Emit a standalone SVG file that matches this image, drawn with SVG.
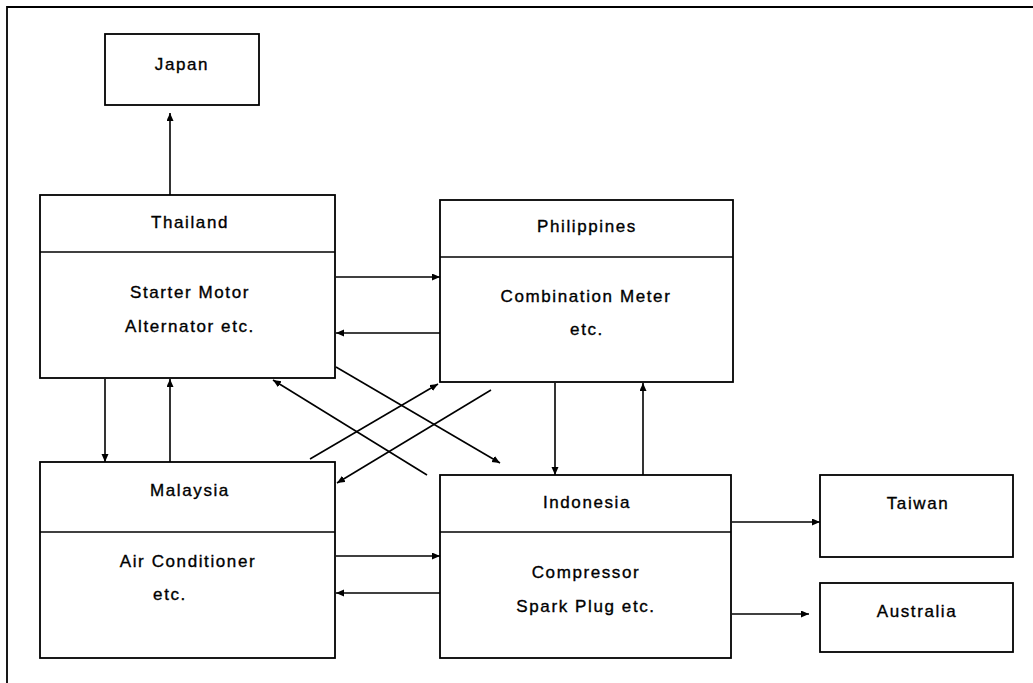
<svg xmlns="http://www.w3.org/2000/svg" width="1033" height="683" viewBox="0 0 1033 683">
  <style>
    .box { fill: #fff; stroke: #000; stroke-width: 1.8; }
    .div { stroke: #000; stroke-width: 1.5; }
    .lbl { font-family: "Liberation Sans", Arial, sans-serif; font-size: 17px; letter-spacing: 1.6px; fill: #000; stroke: #000; stroke-width: 0.35; text-anchor: middle; }
    .con { fill: none; stroke: #000; stroke-width: 1.6; marker-end: url(#arr); }
    .frame { fill: none; stroke: #000; stroke-width: 1.8; }
  </style>
  <defs>
    <marker id="arr" markerUnits="userSpaceOnUse" markerWidth="9" markerHeight="8" refX="8" refY="3.5" orient="auto">
      <path d="M0,0 L8,3.5 L0,7 z" fill="#000"/>
    </marker>
  </defs>

  <rect width="1033" height="683" fill="#fff"/>
  <!-- page frame: left and top edges -->
  <path class="frame" d="M7,683 V7 H1033"/>

  <g id="japan">
    <rect class="box" x="105" y="34" width="154" height="71"/>
    <text class="lbl" x="182" y="70">Japan</text>
  </g>

  <g id="thailand">
    <rect class="box" x="40" y="195" width="295" height="183"/>
    <line class="div" x1="40" y1="252" x2="335" y2="252"/>
    <text class="lbl" x="190" y="228">Thailand</text>
    <text class="lbl" x="190" y="298">Starter Motor</text>
    <text class="lbl" x="190" y="332">Alternator etc.</text>
  </g>

  <g id="philippines">
    <rect class="box" x="440" y="200" width="293" height="182"/>
    <line class="div" x1="440" y1="257" x2="733" y2="257"/>
    <text class="lbl" x="587" y="232">Philippines</text>
    <text class="lbl" x="586" y="302">Combination Meter</text>
    <text class="lbl" x="587" y="335">etc.</text>
  </g>

  <g id="malaysia">
    <rect class="box" x="40" y="462" width="295" height="196"/>
    <line class="div" x1="40" y1="532" x2="335" y2="532"/>
    <text class="lbl" x="190" y="496">Malaysia</text>
    <text class="lbl" x="188" y="567">Air Conditioner</text>
    <text class="lbl" x="170" y="600">etc.</text>
  </g>

  <g id="indonesia">
    <rect class="box" x="440" y="475" width="291" height="183"/>
    <line class="div" x1="440" y1="532" x2="731" y2="532"/>
    <text class="lbl" x="587" y="508">Indonesia</text>
    <text class="lbl" x="586" y="578">Compressor</text>
    <text class="lbl" x="586" y="612">Spark Plug etc.</text>
  </g>

  <g id="taiwan">
    <rect class="box" x="820" y="475" width="193" height="82"/>
    <text class="lbl" x="918" y="509">Taiwan</text>
  </g>

  <g id="australia">
    <rect class="box" x="820" y="583" width="193" height="69"/>
    <text class="lbl" x="917" y="617">Australia</text>
  </g>

  <g id="connectors">
    <!-- Thailand to Japan -->
    <line class="con" x1="170" y1="195" x2="170" y2="113"/>
    <!-- Thailand / Philippines -->
    <line class="con" x1="336" y1="277" x2="440" y2="277"/>
    <line class="con" x1="440" y1="333" x2="336" y2="333"/>
    <!-- Thailand / Malaysia -->
    <line class="con" x1="105" y1="379" x2="105" y2="462"/>
    <line class="con" x1="170" y1="462" x2="170" y2="379"/>
    <!-- Philippines / Indonesia -->
    <line class="con" x1="555" y1="383" x2="555" y2="475"/>
    <line class="con" x1="643" y1="475" x2="643" y2="383"/>
    <!-- Malaysia / Indonesia -->
    <line class="con" x1="336" y1="556" x2="440" y2="556"/>
    <line class="con" x1="440" y1="593" x2="336" y2="593"/>
    <!-- diagonals -->
    <line class="con" x1="336" y1="367" x2="500" y2="463"/>
    <line class="con" x1="427" y1="475" x2="273" y2="380"/>
    <line class="con" x1="310" y1="459" x2="438" y2="384"/>
    <line class="con" x1="491" y1="390" x2="337" y2="483"/>
    <!-- Indonesia exports -->
    <line class="con" x1="732" y1="522" x2="820" y2="522"/>
    <line class="con" x1="732" y1="614" x2="809" y2="614"/>
  </g>
</svg>
